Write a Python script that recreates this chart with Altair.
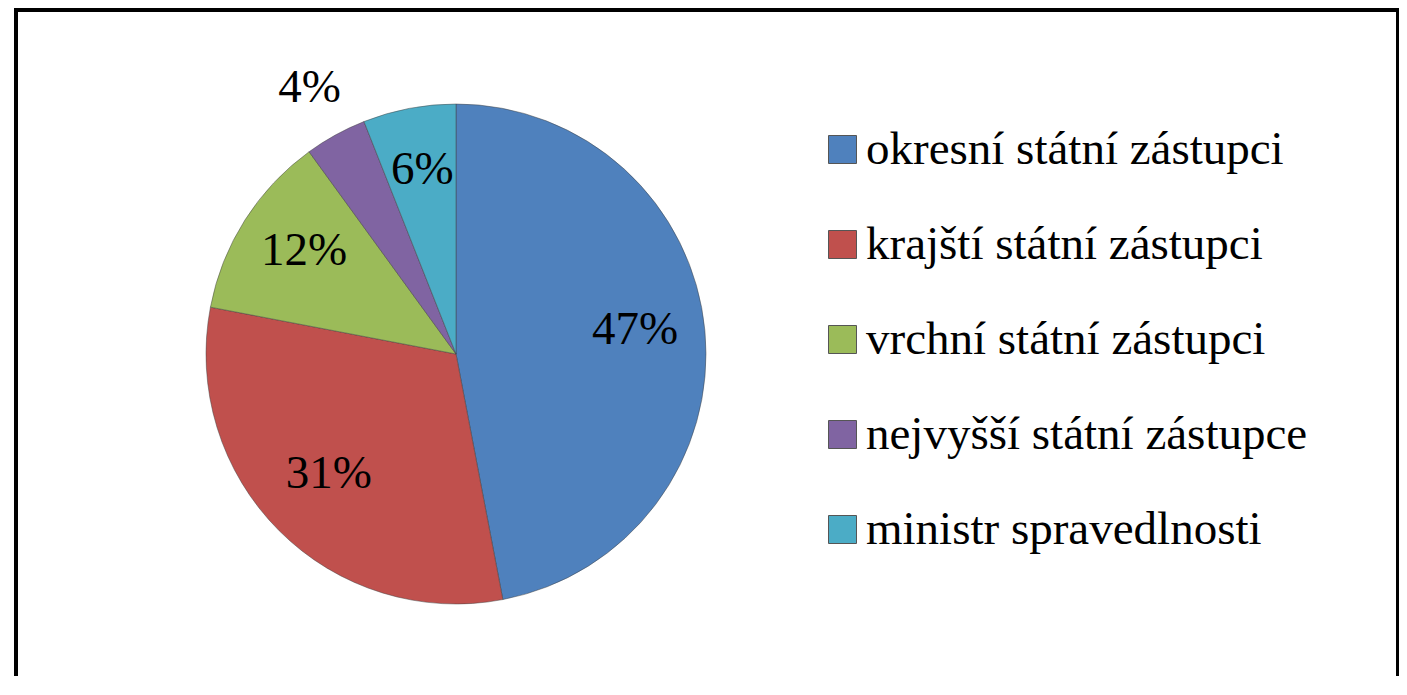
import altair as alt
import pandas as pd

categories = ["okresní státní zástupci", "krajští státní zástupci", "vrchní státní zástupci",
              "nejvyšší státní zástupce", "ministr spravedlnosti"]
values = [47, 31, 12, 4, 6]
colors = ["#4F81BD", "#C0504D", "#9BBB59", "#8064A2", "#4BACC6"]

df = pd.DataFrame({"category": categories, "value": values, "idx": list(range(len(values)))})

FONT = "Liberation Serif"
CX, CY = 440, 342

color = alt.Color("category:N",
                  scale=alt.Scale(domain=categories, range=colors),
                  sort=categories,
                  legend=alt.Legend(title=None, orient="none", legendX=803, legendY=114,
                                    symbolType="square", symbolSize=784,
                                    symbolStrokeColor="#555555", symbolStrokeWidth=1,
                                    labelFont=FONT, labelFontSize=47, labelColor="black",
                                    labelOffset=0, rowPadding=47, labelLimit=700))

base = alt.Chart(df).encode(
    theta=alt.Theta("value:Q", stack=True),
    order=alt.Order("idx:Q"),
    x=alt.value(CX), y=alt.value(CY),
)

pie = base.mark_arc(radius=250, stroke="#404040", strokeWidth=0.8, strokeOpacity=0.6).encode(color=color)

inner = base.transform_calculate(label="datum.value + '%'").mark_text(
    radius=180, dy=-7, font=FONT, fontSize=47, color="black"
).encode(text=alt.condition("datum.value >= 5", "label:N", alt.value("")))

outer = base.transform_calculate(label="datum.value + '%'").mark_text(
    radius=304, font=FONT, fontSize=47, color="black"
).encode(text=alt.condition("datum.value < 5", "label:N", alt.value("")))

one = alt.Data(values=[{"a": 1}])
left = alt.Chart(one).mark_rule(color="black", strokeWidth=4).encode(
    x=alt.value(0), y=alt.value(-4), y2=alt.value(720))
right = alt.Chart(one).mark_rule(color="black", strokeWidth=4).encode(
    x=alt.value(1382), y=alt.value(-4), y2=alt.value(720))
top = alt.Chart(one).mark_rule(color="black", strokeWidth=4).encode(
    x=alt.value(-2), x2=alt.value(1384), y=alt.value(-2))

chart = alt.layer(pie, inner, outer, left, right, top).properties(
    width=1383, height=664,
    autosize=alt.AutoSizeParams(type="none"),
    padding={"left": 8, "top": 4, "right": 0, "bottom": 0},
).configure_view(stroke="transparent")

chart.save("out.html", embed_options={"renderer": "svg", "actions": False})
